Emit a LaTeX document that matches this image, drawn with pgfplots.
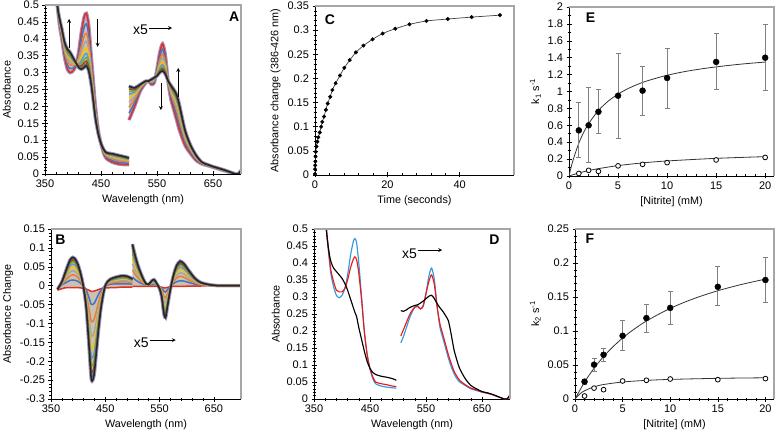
\documentclass[border=0pt]{standalone}
\usepackage{fontspec}
\setmainfont{Liberation Sans}
\usepackage{pgfplots}
\pgfplotsset{compat=1.18}
\usepackage{pgfplotstable}

\definecolor{c0}{HTML}{E0301E}
\definecolor{c1}{HTML}{4472C4}
\definecolor{c2}{HTML}{ED7D31}
\definecolor{c3}{HTML}{A5A5A5}
\definecolor{c4}{HTML}{FFC000}
\definecolor{c5}{HTML}{5B9BD5}
\definecolor{c6}{HTML}{70AD47}
\definecolor{c7}{HTML}{9E480E}
\definecolor{c8}{HTML}{636363}
\definecolor{c9}{HTML}{262626}
\definecolor{lav}{HTML}{A097C8}
\definecolor{bund}{HTML}{C9C1B3}
\definecolor{framegray}{HTML}{A6A6A6}
\definecolor{dblue}{HTML}{2F9BE0}
\definecolor{dred}{HTML}{F01818}

% Panel A, Soret region
\pgfplotstableread{
w a0 a1 a2 a3 a4 a5 a6 a7 a8 a9
366 0.62 0.62 0.62 0.62 0.62 0.62 0.62 0.62 0.62 0.62
372 0.50 0.50 0.50 0.50 0.50 0.50 0.50 0.50 0.50 0.50
376 0.44 0.444 0.448 0.451 0.453 0.455 0.457 0.458 0.459 0.46
380 0.40 0.406 0.411 0.416 0.420 0.423 0.425 0.427 0.429 0.43
385 0.345 0.354 0.362 0.369 0.375 0.379 0.383 0.386 0.388 0.39
390 0.31 0.322 0.333 0.342 0.350 0.356 0.360 0.365 0.368 0.37
395 0.30 0.312 0.323 0.332 0.340 0.346 0.350 0.355 0.358 0.36
400 0.305 0.313 0.320 0.326 0.331 0.335 0.339 0.341 0.343 0.345
405 0.32 0.322 0.324 0.325 0.327 0.328 0.328 0.329 0.330 0.33
410 0.36 0.351 0.343 0.336 0.330 0.326 0.322 0.319 0.317 0.315
415 0.42 0.398 0.378 0.362 0.347 0.336 0.328 0.320 0.314 0.31
420 0.465 0.435 0.408 0.386 0.366 0.351 0.339 0.329 0.321 0.315
424 0.475 0.444 0.416 0.393 0.373 0.357 0.345 0.334 0.326 0.32
428 0.44 0.413 0.389 0.368 0.351 0.337 0.327 0.317 0.310 0.305
432 0.36 0.342 0.326 0.312 0.301 0.292 0.284 0.278 0.274 0.27
436 0.28 0.268 0.257 0.248 0.240 0.234 0.230 0.225 0.222 0.22
440 0.20 0.193 0.187 0.181 0.177 0.173 0.171 0.168 0.166 0.165
445 0.13 0.128 0.126 0.125 0.123 0.122 0.122 0.121 0.120 0.12
450 0.09 0.09 0.09 0.09 0.09 0.09 0.09 0.09 0.09 0.09
455 0.06 0.062 0.065 0.066 0.068 0.069 0.070 0.071 0.072 0.072
460 0.045 0.049 0.052 0.055 0.057 0.059 0.060 0.061 0.062 0.063
470 0.035 0.040 0.045 0.048 0.052 0.054 0.056 0.058 0.059 0.06
480 0.03 0.035 0.040 0.044 0.047 0.050 0.052 0.054 0.055 0.056
490 0.028 0.033 0.037 0.041 0.044 0.046 0.048 0.050 0.051 0.052
500 0.028 0.032 0.036 0.039 0.041 0.043 0.045 0.046 0.047 0.048
}\ASoret

% outline of the Soret bundle (first spectrum forward, last spectrum back)
\pgfplotstableread{
w v
366 0.62
372 0.50
376 0.44
380 0.40
385 0.345
390 0.31
395 0.30
400 0.305
405 0.32
410 0.36
415 0.42
420 0.465
424 0.475
428 0.44
432 0.36
436 0.28
440 0.20
445 0.13
450 0.09
455 0.06
460 0.045
470 0.035
480 0.03
490 0.028
500 0.028
500 0.048
490 0.052
480 0.056
470 0.06
460 0.063
455 0.072
450 0.09
445 0.12
440 0.165
436 0.22
432 0.27
428 0.305
424 0.32
420 0.315
415 0.31
410 0.315
405 0.33
400 0.345
395 0.36
390 0.37
385 0.39
380 0.43
376 0.46
372 0.50
366 0.62
}\ASfill

% Panel A, visible region (x5)
\pgfplotstableread{
w a0 a1 a2 a3 a4 a5 a6 a7 a8 a9
500 0.16 0.18 0.198 0.213 0.226 0.236 0.244 0.251 0.256 0.26
510 0.20 0.211 0.221 0.229 0.236 0.242 0.246 0.250 0.253 0.255
520 0.245 0.249 0.253 0.256 0.258 0.260 0.262 0.263 0.264 0.265
530 0.27 0.271 0.272 0.273 0.273 0.274 0.274 0.275 0.275 0.275
535 0.275 0.275 0.275 0.275 0.275 0.275 0.275 0.275 0.275 0.275
540 0.265 0.268 0.271 0.273 0.275 0.276 0.278 0.279 0.279 0.28
545 0.27 0.273 0.276 0.278 0.280 0.281 0.283 0.284 0.284 0.285
550 0.31 0.306 0.302 0.299 0.297 0.295 0.293 0.292 0.291 0.29
555 0.36 0.348 0.337 0.328 0.320 0.314 0.310 0.305 0.302 0.30
560 0.385 0.369 0.355 0.343 0.332 0.324 0.318 0.312 0.308 0.305
565 0.35 0.339 0.329 0.321 0.314 0.308 0.304 0.300 0.297 0.295
570 0.27 0.271 0.272 0.273 0.273 0.274 0.274 0.275 0.275 0.275
575 0.22 0.228 0.236 0.242 0.248 0.252 0.255 0.258 0.260 0.262
580 0.19 0.202 0.213 0.222 0.230 0.236 0.240 0.245 0.248 0.25
585 0.16 0.175 0.189 0.200 0.210 0.217 0.223 0.228 0.232 0.235
590 0.13 0.145 0.159 0.170 0.180 0.187 0.193 0.198 0.202 0.205
600 0.085 0.094 0.102 0.109 0.115 0.119 0.123 0.126 0.128 0.13
610 0.06 0.065 0.070 0.073 0.077 0.079 0.081 0.083 0.084 0.085
620 0.04 0.043 0.046 0.048 0.050 0.051 0.053 0.054 0.054 0.055
630 0.03 0.031 0.032 0.033 0.033 0.034 0.034 0.035 0.035 0.035
640 0.025 0.026 0.026 0.027 0.027 0.027 0.028 0.028 0.028 0.028
650 0.020 0.020 0.021 0.021 0.021 0.022 0.022 0.022 0.022 0.022
660 0.015 0.015 0.016 0.016 0.016 0.017 0.017 0.017 0.017 0.017
670 0.010 0.010 0.011 0.011 0.011 0.012 0.012 0.012 0.012 0.012
680 0.005 0.005 0.005 0.005 0.006 0.006 0.006 0.006 0.006 0.006
690 0 0 0 0 0 0 0 0 0 0
695 0 0 0 0 0 0 0 0 0 0
700 0.01 0.01 0.01 0.01 0.01 0.01 0.01 0.01 0.01 0.01
}\AVis

\pgfplotstableread{
w v
500 0.16
510 0.20
520 0.245
530 0.27
535 0.275
540 0.265
545 0.27
550 0.31
555 0.36
560 0.385
565 0.35
570 0.27
575 0.22
580 0.19
585 0.16
590 0.13
600 0.085
610 0.06
620 0.04
630 0.03
640 0.025
650 0.02
660 0.015
670 0.01
680 0.005
690 0
680 0.006
670 0.012
660 0.017
650 0.022
640 0.028
630 0.035
620 0.055
610 0.085
600 0.13
590 0.205
585 0.235
580 0.25
575 0.262
570 0.275
565 0.295
560 0.305
555 0.30
550 0.29
545 0.285
540 0.28
535 0.275
530 0.275
520 0.265
510 0.255
500 0.26
}\AVfill

% Panel B, Soret region
\pgfplotstableread{
w b0 b1 b2 b3 b4 b5 b6 b7 b8 b9
362 -0.012 -0.004 -0.005 -0.006 -0.007 -0.008 -0.008 -0.009 -0.010 -0.010
370 -0.008 0.002 0.004 0.005 0.007 0.008 0.008 0.009 0.010 0.010
375 -0.006 0.006 0.011 0.016 0.020 0.023 0.025 0.027 0.029 0.030
380 -0.005 0.010 0.019 0.027 0.033 0.038 0.042 0.046 0.048 0.050
385 -0.005 0.014 0.026 0.036 0.045 0.052 0.057 0.062 0.065 0.068
390 -0.005 0.015 0.029 0.040 0.050 0.057 0.063 0.068 0.072 0.075
395 -0.005 0.014 0.027 0.037 0.046 0.053 0.059 0.064 0.067 0.070
400 -0.005 0.011 0.021 0.029 0.036 0.042 0.046 0.050 0.053 0.055
405 -0.006 0.006 0.011 0.016 0.020 0.023 0.025 0.027 0.029 0.030
410 -0.007 -0.001 -0.002 -0.003 -0.003 -0.004 -0.004 -0.005 -0.005 -0.005
415 -0.009 -0.012 -0.023 -0.032 -0.040 -0.046 -0.050 -0.055 -0.058 -0.060
420 -0.012 -0.032 -0.061 -0.085 -0.106 -0.122 -0.134 -0.146 -0.154 -0.160
424 -0.015 -0.049 -0.093 -0.130 -0.162 -0.186 -0.206 -0.223 -0.235 -0.245
427 -0.015 -0.050 -0.095 -0.133 -0.165 -0.190 -0.210 -0.228 -0.240 -0.250
430 -0.014 -0.046 -0.087 -0.122 -0.152 -0.175 -0.193 -0.209 -0.221 -0.230
434 -0.012 -0.034 -0.065 -0.090 -0.112 -0.129 -0.143 -0.155 -0.163 -0.170
438 -0.010 -0.022 -0.042 -0.058 -0.073 -0.084 -0.092 -0.100 -0.106 -0.110
442 -0.008 -0.012 -0.023 -0.032 -0.040 -0.046 -0.050 -0.055 -0.058 -0.060
446 -0.007 -0.005 -0.010 -0.013 -0.017 -0.019 -0.021 -0.023 -0.024 -0.025
450 -0.006 0 0 0 0 0 0 0 0 0
455 -0.006 0.002 0.005 0.006 0.008 0.009 0.010 0.011 0.012 0.012
460 -0.005 0.004 0.007 0.010 0.012 0.014 0.015 0.016 0.017 0.018
470 -0.005 0.005 0.009 0.012 0.015 0.017 0.019 0.021 0.022 0.023
480 -0.004 0.005 0.010 0.014 0.017 0.020 0.022 0.024 0.025 0.026
490 -0.004 0.005 0.010 0.013 0.017 0.019 0.021 0.023 0.024 0.025
500 -0.004 0.004 0.007 0.010 0.012 0.014 0.015 0.016 0.017 0.018
}\BSoret

\pgfplotstableread{
w v
362 -0.012
370 -0.008
380 -0.005
400 -0.005
410 -0.007
420 -0.012
427 -0.015
434 -0.012
442 -0.008
450 -0.006
470 -0.005
500 -0.004
500 0.018
490 0.025
480 0.026
470 0.023
460 0.018
455 0.012
450 0
446 -0.025
442 -0.06
438 -0.11
434 -0.17
430 -0.23
427 -0.25
424 -0.245
420 -0.16
415 -0.06
410 -0.005
405 0.03
400 0.055
395 0.07
390 0.075
385 0.068
380 0.05
375 0.03
370 0.01
362 -0.01
}\BSfill

% Panel B, visible region (x5)
\pgfplotstableread{
w b0 b1 b2 b3 b4 b5 b6 b7 b8 b9
500 -0.002 0.022 0.042 0.058 0.073 0.084 0.092 0.100 0.106 0.110
505 -0.002 0.016 0.030 0.042 0.053 0.061 0.067 0.073 0.077 0.080
510 -0.002 0.011 0.021 0.029 0.036 0.042 0.046 0.050 0.053 0.055
515 -0.002 0.007 0.013 0.019 0.023 0.027 0.029 0.032 0.034 0.035
520 -0.002 0.004 0.007 0.010 0.012 0.014 0.015 0.016 0.017 0.018
525 -0.002 0.001 0.002 0.003 0.003 0.004 0.004 0.005 0.005 0.005
530 -0.002 0.001 0.001 0.002 0.002 0.002 0.003 0.003 0.003 0.003
535 -0.002 0.002 0.005 0.006 0.008 0.009 0.010 0.011 0.012 0.012
540 -0.002 0.003 0.006 0.008 0.011 0.012 0.013 0.015 0.015 0.016
545 -0.002 0.001 0.002 0.003 0.003 0.004 0.004 0.005 0.005 0.005
550 -0.003 -0.002 -0.003 -0.004 -0.005 -0.006 -0.007 -0.007 -0.008 -0.008
554 -0.004 -0.006 -0.011 -0.016 -0.020 -0.023 -0.025 -0.027 -0.029 -0.030
558 -0.006 -0.015 -0.029 -0.040 -0.050 -0.057 -0.063 -0.068 -0.072 -0.075
561 -0.006 -0.017 -0.032 -0.045 -0.056 -0.065 -0.071 -0.077 -0.082 -0.085
564 -0.005 -0.012 -0.023 -0.032 -0.040 -0.046 -0.050 -0.055 -0.058 -0.060
568 -0.003 -0.005 -0.010 -0.013 -0.017 -0.019 -0.021 -0.023 -0.024 -0.025
572 -0.002 0.001 0.002 0.003 0.003 0.004 0.004 0.005 0.005 0.005
577 -0.002 0.007 0.013 0.019 0.023 0.027 0.029 0.032 0.034 0.035
582 -0.002 0.011 0.021 0.029 0.036 0.042 0.046 0.050 0.053 0.055
588 -0.002 0.013 0.025 0.034 0.043 0.049 0.055 0.059 0.062 0.065
595 -0.002 0.012 0.022 0.031 0.038 0.044 0.049 0.053 0.056 0.058
605 -0.001 0.008 0.014 0.020 0.025 0.029 0.032 0.035 0.036 0.038
615 -0.001 0.004 0.008 0.011 0.013 0.015 0.017 0.018 0.019 0.020
625 -0.001 0.002 0.003 0.005 0.006 0.007 0.008 0.008 0.009 0.009
640 0 0.001 0.001 0.002 0.002 0.002 0.003 0.003 0.003 0.003
660 0 0 0 0 0 0 0 0 0 0
700 0 0 0 0 0 0 0 0 0 0
}\BVis

\pgfplotstableread{
w v
500 -0.002
545 -0.002
558 -0.006
564 -0.005
572 -0.002
600 -0.002
640 0
660 0
640 0.003
625 0.009
615 0.02
605 0.038
595 0.058
588 0.065
582 0.055
577 0.035
572 0.005
568 -0.025
564 -0.06
561 -0.085
558 -0.075
554 -0.03
550 -0.008
545 0.005
540 0.016
535 0.012
530 0.003
525 0.005
520 0.018
515 0.035
510 0.055
505 0.08
500 0.11
}\BVfill

% Panel C
\pgfplotstableread{
t y
0 0.002
0.02 0.012
0.05 0.020
0.1 0.028
0.15 0.038
0.2 0.048
0.4 0.059
0.65 0.069
0.9 0.078
1.3 0.088
1.7 0.100
2.0 0.110
2.5 0.121
3.0 0.135
3.5 0.148
4.2 0.162
4.8 0.176
5.7 0.190
6.9 0.206
8.1 0.222
9.6 0.238
11.3 0.254
13.4 0.268
15.9 0.281
18.7 0.293
22.2 0.303
26.1 0.312
30.8 0.319
36.7 0.323
43.3 0.327
51.1 0.331
}\CData

% Panel D, Soret region
\pgfplotstableread{
w blue red black
366 0.62 0.62 0.62
372 0.50 0.50 0.50
376 0.43 0.44 0.44
380 0.37 0.38 0.405
385 0.33 0.345 0.385
390 0.305 0.32 0.375
395 0.298 0.315 0.365
400 0.305 0.315 0.355
405 0.325 0.325 0.34
410 0.365 0.35 0.32
415 0.42 0.385 0.295
420 0.462 0.41 0.27
423 0.472 0.418 0.255
426 0.46 0.41 0.243
430 0.40 0.37 0.21
435 0.30 0.29 0.175
440 0.20 0.195 0.14
445 0.13 0.13 0.11
450 0.088 0.09 0.09
455 0.06 0.065 0.078
460 0.045 0.05 0.072
470 0.038 0.045 0.067
480 0.035 0.042 0.064
490 0.033 0.038 0.06
497 0.032 0.037 0.055
}\DSoret

% Panel D, visible region (x5)
\pgfplotstableread{
w blue red black
505 0.165 0.185 0.26
510 0.185 0.205 0.258
515 0.21 0.225 0.262
520 0.235 0.245 0.268
525 0.255 0.26 0.272
530 0.27 0.27 0.275
535 0.275 0.272 0.277
540 0.265 0.265 0.282
545 0.272 0.275 0.288
550 0.31 0.31 0.295
555 0.36 0.345 0.302
560 0.385 0.365 0.305
565 0.35 0.335 0.295
570 0.27 0.27 0.28
575 0.21 0.22 0.268
580 0.18 0.19 0.258
585 0.15 0.16 0.245
590 0.12 0.13 0.23
595 0.095 0.105 0.19
600 0.075 0.082 0.145
605 0.06 0.067 0.115
610 0.05 0.055 0.09
620 0.04 0.042 0.06
630 0.03 0.032 0.04
640 0.025 0.027 0.03
650 0.02 0.021 0.022
660 0.017 0.017 0.018
670 0.012 0.012 0.013
680 0.006 0.006 0.006
690 0 0 0
695 0 0 0
700 0.012 0.012 0.012
}\DVis

\pgfplotsset{
  panel/.style={
    scale only axis, anchor=south west,
    axis x line*=bottom, axis y line*=left,
    axis line style={black, line width=0.6pt},
    tick style={black, line width=0.5pt},
    major tick length=5pt, minor tick length=3pt, tick align=center,
    tick label style={font=\fontsize{11}{12}\selectfont},
    label style={font=\fontsize{10.8}{12}\selectfont},
    /pgf/number format/assume math mode=true,
    /pgf/number format/fixed, /pgf/number format/precision=2,
  },
  spec/.style={smooth, tension=0.45, line width=1.5pt},
  dspec/.style={smooth, tension=0.45, line width=1.15pt},
  wl/.style={xmin=350, xmax=700, xtick={350,450,550,650}, minor x tick num=4,
    xlabel={Wavelength (nm)}},
}
\newcommand{\plet}[3]{\node[font=\bfseries\fontsize{14}{14}\selectfont] at (rel axis cs:#1,#2) {#3};}

\begin{document}
\begin{tikzpicture}
\path[use as bounding box] (0,0) rectangle (776pt,434pt);

% ---------------- A ----------------
\begin{axis}[panel, wl, name=pa, at={(45pt,260pt)}, width=196pt, height=169pt,
  ymin=0, ymax=0.5, ytick={0,0.05,0.1,0.15,0.2,0.25,0.3,0.35,0.4,0.45,0.5}, minor y tick num=4,
  ylabel={Absorbance}]
\addplot[fill=bund, draw=none] table[x=w,y=v]{\ASfill};
\addplot[fill=bund, draw=none] table[x=w,y=v]{\AVfill};
\addplot[lav, line width=3.5pt, smooth, tension=0.45] table[x=w,y=a0]{\ASoret};
\addplot[lav, line width=3.5pt, smooth, tension=0.45] table[x=w,y=a9]{\ASoret};
\addplot[lav, line width=3.5pt, smooth, tension=0.45] table[x=w,y=a0]{\AVis};
\addplot[lav, line width=3.5pt, smooth, tension=0.45] table[x=w,y=a9]{\AVis};
\pgfplotsinvokeforeach{0,...,9}{
  \addplot[spec, c#1] table[x=w,y=a#1]{\ASoret};
  \addplot[spec, c#1] table[x=w,y=a#1]{\AVis};
}
\draw[-stealth, line width=0.8pt] (axis cs:393,0.373) -- (axis cs:393,0.459);
\draw[-stealth, line width=0.8pt] (axis cs:444,0.459) -- (axis cs:444,0.376);
\draw[-stealth, line width=0.8pt] (axis cs:557,0.269) -- (axis cs:557,0.189);
\draw[-stealth, line width=0.8pt] (axis cs:588,0.228) -- (axis cs:588,0.314);
\node[anchor=east, inner sep=1pt, font=\fontsize{14}{14}\selectfont] at (axis cs:536,0.428) {x5};
\draw[-stealth, line width=0.8pt] (axis cs:536,0.432) -- (axis cs:577,0.432);
\plet{0.965}{0.93}{A}
\end{axis}
\draw[framegray, line width=1.3pt] (pa.north west) -- (pa.north east) -- (pa.south east);

% ---------------- B ----------------
\begin{axis}[panel, wl, name=pb, at={(51pt,35pt)}, width=190pt, height=170pt,
  ymin=-0.3, ymax=0.15, ytick={-0.3,-0.25,-0.2,-0.15,-0.1,-0.05,0,0.05,0.1,0.15}, minor y tick num=4,
  ylabel={Absorbance Change}]
\addplot[fill=bund, draw=none] table[x=w,y=v]{\BSfill};
\addplot[fill=bund, draw=none] table[x=w,y=v]{\BVfill};
\addplot[lav, line width=3.5pt, smooth, tension=0.45] table[x=w,y=b9]{\BSoret};
\addplot[lav, line width=3.5pt, smooth, tension=0.45] table[x=w,y=b9]{\BVis};
\pgfplotsinvokeforeach{0,...,9}{
  \addplot[spec, c#1] table[x=w,y=b#1]{\BSoret};
  \addplot[spec, c#1] table[x=w,y=b#1]{\BVis};
}
\node[anchor=east, inner sep=1pt, font=\fontsize{14}{14}\selectfont] at (axis cs:532,-0.152) {x5};
\draw[-stealth, line width=0.8pt] (axis cs:532,-0.144) -- (axis cs:580,-0.144);
\plet{0.05}{0.935}{B}
\end{axis}
\draw[framegray, line width=1.3pt] (pb.north west) -- (pb.north east) -- (pb.south east);

% ---------------- C ----------------
\begin{axis}[panel, name=pc, at={(315pt,259pt)}, width=199pt, height=169pt,
  xmin=0, xmax=55, xtick={0,20,40}, minor x tick num=4,
  ymin=0, ymax=0.35, ytick={0,0.05,0.1,0.15,0.2,0.25,0.3,0.35}, minor y tick num=4,
  xlabel={Time (seconds)}, ylabel={Absorbance change (386-426 nm)}]
\addplot[black!75, line width=0.7pt, smooth, tension=0.4] table[x=t,y=y]{\CData};
\addplot[only marks, mark=*, mark size=1.8pt, mark options={fill=black, draw=black}] table[x=t,y=y]{\CData};
\plet{0.075}{0.92}{C}
\end{axis}
\draw[framegray, line width=1.3pt] (pc.north west) -- (pc.north east) -- (pc.south east);

% ---------------- D ----------------
\begin{axis}[panel, wl, name=pd, at={(314pt,35pt)}, width=196pt, height=170pt,
  ymin=0, ymax=0.5, ytick={0,0.05,0.1,0.15,0.2,0.25,0.3,0.35,0.4,0.45,0.5}, minor y tick num=4,
  ylabel={Absorbance}]
\addplot[dspec, dblue] table[x=w,y=blue]{\DSoret};
\addplot[dspec, dred] table[x=w,y=red]{\DSoret};
\addplot[dspec, black] table[x=w,y=black]{\DSoret};
\addplot[dspec, dblue] table[x=w,y=blue]{\DVis};
\addplot[dspec, dred] table[x=w,y=red]{\DVis};
\addplot[dspec, black] table[x=w,y=black]{\DVis};
\node[anchor=east, inner sep=1pt, font=\fontsize{14}{14}\selectfont] at (axis cs:536,0.428) {x5};
\draw[-stealth, line width=0.8pt] (axis cs:536,0.438) -- (axis cs:579,0.438);
\plet{0.92}{0.935}{D}
\end{axis}
\draw[framegray, line width=1.3pt] (pd.north west) -- (pd.north east) -- (pd.south east);

% ---------------- E ----------------
\begin{axis}[panel, name=pe, at={(569pt,258pt)}, width=205pt, height=169pt,
  xmin=0, xmax=20.9, xtick={0,5,10,15,20}, minor x tick num=4,
  ymin=0, ymax=2, ytick={0,0.2,0.4,0.6,0.8,1,1.2,1.4,1.6,1.8,2}, minor y tick num=1,
  xlabel={[Nitrite] (mM)}, ylabel={k\textsubscript{1} s\textsuperscript{-1}}]
\addplot[black!80, line width=0.8pt, smooth] coordinates {
 (0,0) (0.25,0.119) (0.5,0.221) (1,0.388) (1.5,0.517) (2,0.62) (3,0.775) (4,0.886)
 (5,0.969) (6,1.033) (7,1.085) (8,1.127) (10,1.192) (12,1.24) (14,1.276) (16,1.305) (18,1.329) (20,1.348)};
\addplot[black!80, line width=0.8pt, smooth] coordinates {
 (0,0) (1,0.036) (2,0.064) (3,0.087) (5,0.123) (7.5,0.155) (10,0.178) (15,0.209) (20,0.229)};
\addplot[only marks, mark=*, mark size=3pt, mark options={fill=black, draw=black},
  error bars/.cd, y dir=both, y explicit,
  error bar style={gray, line width=0.7pt}, error mark options={gray, rotate=90, mark size=2.5pt, line width=0.7pt}]
  coordinates {
 (1,0.54) += (0,0.33) -= (0,0.32)
 (2,0.60) += (0,0.45) -= (0,0.44)
 (3,0.76) += (0,0.27) -= (0,0.26)
 (5,0.95) += (0,0.50) -= (0,0.50)
 (7.5,1.01) += (0,0.29) -= (0,0.29)
 (10,1.16) += (0,0.35) -= (0,0.36)
 (15,1.35) += (0,0.34) -= (0,0.32)
 (20,1.40) += (0,0.39) -= (0,0.39)};
\addplot[only marks, mark=*, mark size=2.4pt, mark options={fill=white, draw=black, line width=0.8pt}] coordinates {
 (1,0.03) (2,0.067) (3,0.055) (5,0.12) (7.5,0.138) (10,0.158) (15,0.19) (20,0.22)};
\plet{0.105}{0.935}{E}
\end{axis}
\draw[framegray, line width=1.3pt] (pe.north west) -- (pe.north east) -- (pe.south east);

% ---------------- F ----------------
\begin{axis}[panel, name=pf, at={(575pt,35pt)}, width=199pt, height=170pt,
  xmin=0, xmax=20.9, xtick={0,5,10,15,20}, minor x tick num=4,
  ymin=0, ymax=0.25, ytick={0,0.05,0.1,0.15,0.2,0.25}, minor y tick num=4,
  xlabel={[Nitrite] (mM)}, ylabel={k\textsubscript{2} s\textsuperscript{-1}}]
\addplot[black!80, line width=0.8pt, smooth] coordinates {
 (0,0) (1,0.0248) (2,0.0452) (3,0.0624) (4,0.077) (5,0.0897) (6,0.1006) (7.5,0.1147)
 (10,0.1333) (12.5,0.1477) (15,0.1592) (17.5,0.1685) (20,0.1763)};
\addplot[black!80, line width=0.8pt, smooth] coordinates {
 (0,0) (0.5,0.0074) (1,0.0121) (2,0.0179) (3,0.0213) (5,0.025) (7.5,0.0274) (10,0.0288) (15,0.0304) (20,0.0312)};
\addplot[only marks, mark=*, mark size=3pt, mark options={fill=black, draw=black},
  error bars/.cd, y dir=both, y explicit,
  error bar style={gray, line width=0.7pt}, error mark options={gray, rotate=90, mark size=2.5pt, line width=0.7pt}]
  coordinates {
 (1,0.0255) += (0,0.004) -= (0,0.004)
 (2,0.0505) += (0,0.0095) -= (0,0.0095)
 (3,0.065) += (0,0.0095) -= (0,0.009)
 (5,0.093) += (0,0.023) -= (0,0.022)
 (7.5,0.119) += (0,0.02) -= (0,0.021)
 (10,0.134) += (0,0.025) -= (0,0.024)
 (15,0.165) += (0,0.03) -= (0,0.028)
 (20,0.175) += (0,0.033) -= (0,0.033)};
\addplot[only marks, mark=*, mark size=2.4pt, mark options={fill=white, draw=black, line width=0.8pt}] coordinates {
 (1,0.0044) (2,0.016) (3,0.0137) (5,0.0265) (7.5,0.0275) (10,0.0294) (15,0.0284) (20,0.030)};
\plet{0.075}{0.945}{F}
\end{axis}
\draw[framegray, line width=1.3pt] (pf.north west) -- (pf.north east) -- (pf.south east);
\end{tikzpicture}
\end{document}
